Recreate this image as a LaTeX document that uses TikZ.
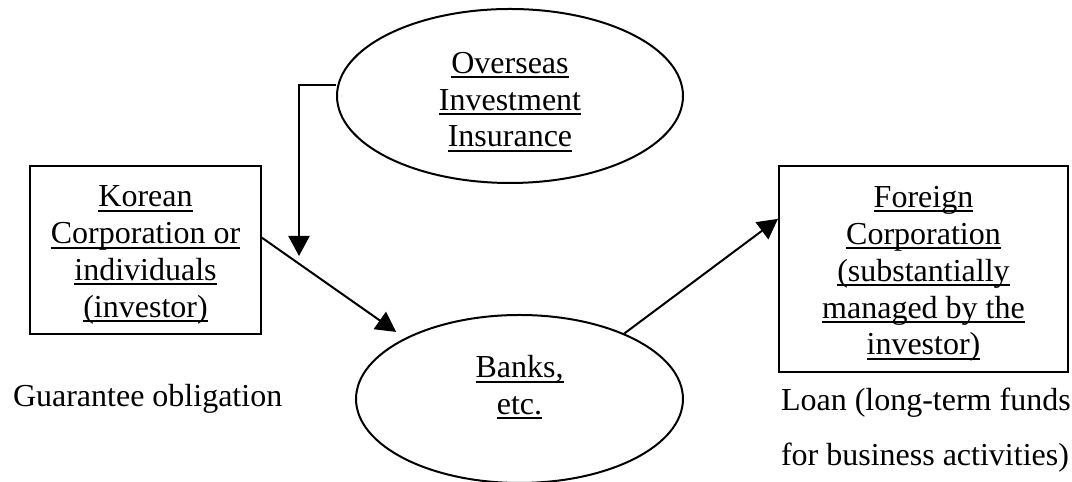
\documentclass[tikz,border=0pt]{standalone}
\usepackage{fontspec}
\setmainfont{Liberation Serif}
\usetikzlibrary{arrows.meta,shapes.geometric}

\newcommand{\undl}[1]{\setbox0\hbox{#1}\rlap{\rule[-1.8pt]{\wd0}{0.75pt}}\box0}

\begin{document}
\begin{tikzpicture}[x=0.375pt,y=-0.375pt,line width=0.75pt,
  txt/.style={font=\fontsize{12}{13.8}\selectfont},
  party/.style={draw,rectangle,inner sep=0pt},
  oval/.style={draw,ellipse,inner sep=0pt},
  words/.style 2 args={label={[txt,align=center,yshift=#1]center:{#2}}},
  arr/.style={-{Triangle[width=7.9pt,length=7.5pt]}}]

\useasboundingbox (0,0) rectangle (1072,482);

% Define coordinates for easier positioning
\coordinate (bend) at (299,85);
\coordinate (drop) at (299,256);

% Draw the boxes and the ovals
\node[oval,minimum width=129.75pt,minimum height=65.25pt,
  words={-2.2pt}{\undl{Overseas}\\\undl{Investment}\\\undl{Insurance}}] (ins) at (510,96) {};
\node[party,minimum width=86.6pt,minimum height=63pt,
  words={-1.9pt}{\undl{Korean}\\\undl{Corporation or}\\\undl{individuals}\\\undl{(investor)}}] (kor) at (145.5,250) {};
\node[oval,minimum width=122.6pt,minimum height=63pt,
  words={4.3pt}{\undl{Banks,}\\\undl{etc.}}] (bank) at (519.5,399) {};
\node[party,minimum width=108.4pt,minimum height=77.25pt,
  words={-1.9pt}{\undl{Foreign}\\\undl{Corporation}\\\undl{(substantially}\\\undl{managed by the}\\\undl{investor)}}] (fore) at (923.5,269) {};

% Draw the arrows
\draw[arr] (ins.west |- bend) -- (bend) -- (drop);
\draw[arr,shorten >=4pt] (kor.6) -- (bank.152.75);
\draw[arr] (bank.32) -- (fore.161.3);

% Add labels
\node[txt,anchor=west,inner sep=0pt] (guar) at (12,399) {Guarantee obligation};
\node[txt,anchor=west,align=left,inner sep=0pt,font=\fontsize{12}{20.6}\selectfont] (loan) at (780,430.5)
  {Loan (long-term funds\\for business activities)};

\end{tikzpicture}
\end{document}
